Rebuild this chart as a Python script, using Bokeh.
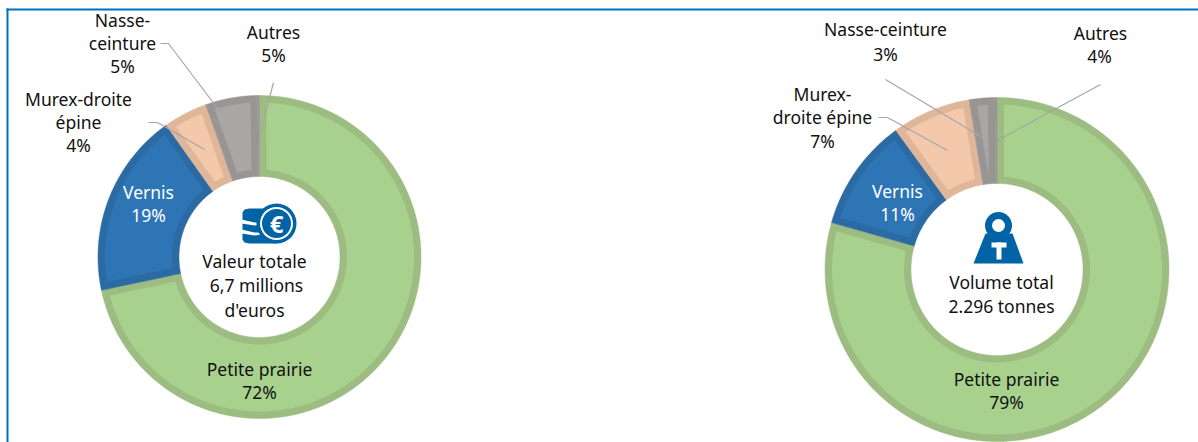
import math
from bokeh.plotting import figure
from bokeh.models import Range1d
from bokeh.core.properties import value
from bokeh.embed import file_html
from bokeh.resources import INLINE

categories = ["Petite prairie", "Vernis", "Murex-droite épine", "Nasse-ceinture", "Autres"]
value_shares = [71.7, 18.5, 4.4, 5.2, 0.2]      # slice sizes
volume_shares = [79.4, 10.6, 7.4, 2.4, 0.2]
fill_colors = ["#A9D18E", "#2E75B6", "#F4C9AB", "#A9A6A6", "#A9A6A6"]
edge_colors = ["#9CBC82", "#2C6AA4", "#DFB699", "#999595", "#999595"]

FONT = "Noto Sans"
FS = "17.5px"
INK = "#111111"
LEADER = "#A6A6A6"
BLUE = "#0063A6"

p = figure(width=1198, height=442, output_backend="svg", toolbar_location=None,
           x_range=Range1d(0, 1198), y_range=Range1d(442, 0),
           x_axis_location=None, y_axis_location=None, min_border=0,
           outline_line_color=None, background_fill_color="white")
p.grid.visible = False
p.styles = {"position": "absolute", "left": "0px", "top": "0px"}


def arc(cx, cy, r, a0, a1):
    n = max(2, int(abs(a1 - a0) / 0.01))
    aa = [a0 + (a1 - a0) * i / n for i in range(n + 1)]
    return [cx + r * math.sin(a) for a in aa], [cy - r * math.cos(a) for a in aa]


def donut(shares, cx, cy, ro, ri, d=7.0):
    total = sum(shares)
    start = 0.0
    for s, fc, ec in zip(shares, fill_colors, edge_colors):
        a0 = start
        a1 = start + 2 * math.pi * s / total
        start = a1
        x1, y1 = arc(cx, cy, ro, a0, a1)
        x2, y2 = arc(cx, cy, ri, a1, a0)
        p.patch(x1 + x2, y1 + y2, fill_color=ec, line_color=ec, line_width=0.5)
        half = (a1 - a0) / 2
        rout = ro - d
        if half >= math.pi / 2:
            rin = ri + d
        else:
            rin = max(ri + d, d / math.sin(half))
        if rin >= rout:
            continue
        da_o = math.asin(d / rout)
        da_i = min(math.asin(d / rin), half)
        x1, y1 = arc(cx, cy, rout, a0 + da_o, a1 - da_o)
        x2, y2 = arc(cx, cy, rin, a1 - da_i, a0 + da_i)
        p.patch(x1 + x2, y1 + y2, fill_color=fc, line_color=None)


donut(value_shares, 259, 256.5, 161.5, 80.5)
donut(volume_shares, 996.5, 269, 172, 86)

# frame
p.segment([6, 7], [9, 8], [1198, 7], [9, 442], line_color="#0070C0", line_width=2)

# leader lines
for xs, ys in [
    ([160, 168, 239], [43, 43, 137]),
    ([273, 259], [82, 136]),
    ([148, 157, 204], [122, 122, 149]),
    ([885, 987], [79, 140]),
    ([1100, 997], [84, 140]),
    ([878, 887, 947], [117, 117, 150]),
]:
    p.line(xs, ys, line_color=LEADER, line_width=1.2)

# coin icon
p.patch([276, 249, 244, 242, 242, 244, 249, 276], [208, 208, 209, 212, 239, 242, 243, 243],
        fill_color=BLUE, line_color=None)
p.patch([241, 254, 262, 262, 254, 241], [219, 222, 222, 224, 225, 223], fill_color="white", line_color=None)
p.patch([241, 254, 262, 262, 254, 241], [229, 232, 232, 234, 235, 233], fill_color="white", line_color=None)
p.circle([276], [223], radius=20, fill_color=BLUE, line_color=None)
p.circle([276], [223], radius=16.5, fill_color="white", line_color=None)
p.circle([276], [223], radius=14.5, fill_color=BLUE, line_color=None)

# weight icon
p.circle([998], [225], radius=13.5, fill_color=BLUE, line_color=None)
p.circle([998], [225], radius=6.5, fill_color="white", line_color=None)
p.patch([985, 1012, 1023, 973], [233, 233, 263, 263], fill_color=BLUE, line_color=None)
p.quad(left=[991, 996], right=[1006, 1001], top=[242, 242], bottom=[247, 259],
       fill_color="white", line_color=None)

dark_labels = [
    ("Nasse-", 122, 19), ("ceinture", 122, 42), ("5%", 122, 65),
    ("Autres", 273, 31), ("5%", 273, 54),
    ("Murex-droite", 78, 98), ("épine", 78, 121), ("4%", 78, 144),
    ("Petite prairie", 259, 368), ("72%", 259, 391),
    ("Valeur totale", 254, 260), ("6,7 millions", 256, 284), ("d'euros", 254, 309),
    ("Nasse-ceinture", 885, 28), ("3%", 885, 53),
    ("Autres", 1100, 32), ("4%", 1099, 55),
    ("Murex-", 822, 93), ("droite épine", 822, 116), ("7%", 822, 140),
    ("Petite prairie", 1006, 378), ("79%", 1006, 401),
    ("Volume total", 1001, 281), ("2.296 tonnes", 1001, 305),
]
light_labels = [("Vernis", 148, 191), ("19%", 148, 214), ("Vernis", 897, 190), ("11%", 897, 213)]

for rows, col in [(dark_labels, INK), (light_labels, "white")]:
    p.text([r[1] for r in rows], [r[2] for r in rows], text=[r[0] for r in rows],
           text_font=value(FONT), text_font_size=FS, text_color=col,
           text_align="center", text_baseline="middle")

p.text([276], [223], text=["€"], text_font=value("Open Sans"), text_font_size="24px",
       text_font_style="bold", text_color="white", text_align="center", text_baseline="middle")

open("out.html", "w").write(file_html(p, INLINE))
